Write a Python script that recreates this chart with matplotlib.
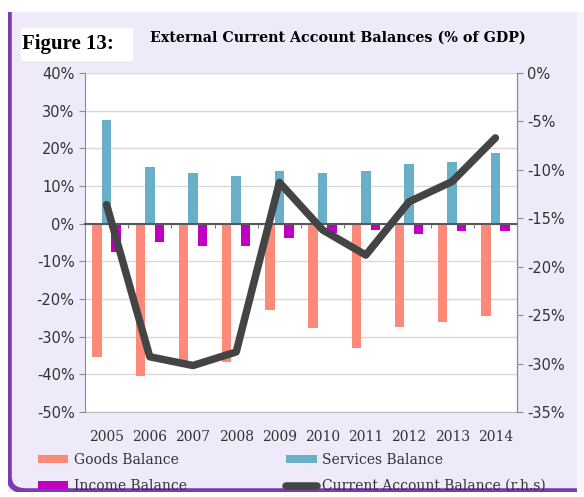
import numpy as np
import matplotlib
matplotlib.use('Agg')
import matplotlib.pyplot as plt
from matplotlib.patches import FancyBboxPatch, Rectangle
from matplotlib.ticker import FuncFormatter, MultipleLocator, FixedLocator

years = ['2005', '2006', '2007', '2008', '2009', '2010', '2011', '2012', '2013', '2014']
goods = [-35.4, -40.5, -36.5, -36.6, -22.9, -27.7, -33.0, -27.4, -26.2, -24.4]
services = [27.6, 15.1, 13.4, 12.7, 14.0, 13.4, 14.0, 15.8, 16.4, 18.8]
income = [-7.6, -4.9, -5.8, -5.8, -3.8, -2.5, -1.7, -2.7, -2.0, -2.0]
current_account = [-13.6, -29.3, -30.2, -28.8, -11.3, -16.2, -18.8, -13.3, -11.2, -6.7]

c_goods = '#FD8A78'
c_serv = '#6AAFC8'
c_inc = '#C000C0'
c_line = '#444444'
txt_col = '#333333'

W, H = 584, 497
fig = plt.figure(figsize=(W / 100, H / 100), dpi=100)
fig.patch.set_facecolor('white')

# lavender panel with purple left/bottom border
panel = Rectangle((8 / W, 1 - 492 / H), 1, (492 - 12) / H, transform=fig.transFigure,
                  facecolor='#EEEAFA', edgecolor='none', zorder=-3)
fig.patches.append(panel)
border = FancyBboxPatch((9 / W, 1 - 491 / H), 1.2, 1.2, transform=fig.transFigure,
                        boxstyle='round,pad=0,rounding_size=0.03',
                        facecolor='none', edgecolor='#7A3CB2', lw=4, zorder=-2)
border.set_clip_path(panel)
fig.patches.append(border)
# lighter strip on the right edge
fig.patches.append(Rectangle((577 / W, 1 - 492 / H), 1, (492 - 12) / H, transform=fig.transFigure,
                             facecolor='#F6F4FD', edgecolor='none', zorder=-2))

# figure label
fig.patches.append(Rectangle((21 / W, 1 - 61 / H), 112 / W, 33 / H, transform=fig.transFigure,
                             facecolor='white', edgecolor='none', zorder=2))
fig.text(22 / W, 1 - 44 / H, 'Figure 13:', family='Liberation Serif', weight='bold',
         fontsize=15, va='center', ha='left', zorder=3)
fig.text(150 / W, 1 - 38 / H, 'External Current Account Balances (% of GDP)',
         family='DejaVu Serif', weight='bold', fontsize=10.3, va='center', ha='left', zorder=3)

ax = fig.add_axes([85 / W, 1 - 412 / H, (517 - 85) / W, (412 - 73) / H])
ax.set_facecolor('white')
x = np.arange(len(years))
bw = 0.22
b1 = ax.bar(x - bw, goods, bw, color=c_goods, zorder=2, label='Goods Balance')
b2 = ax.bar(x, services, bw, color=c_serv, zorder=2, label='Services Balance')
b3 = ax.bar(x + bw, income, bw, color=c_inc, zorder=2, label='Income Balance')

ax.set_ylim(-50, 40)
ax.set_xlim(-0.5, len(years) - 0.5)
ax.yaxis.set_major_locator(MultipleLocator(10))
ax.yaxis.set_major_formatter(FuncFormatter(lambda v, p: f'{v:.0f}%'))
ax.grid(axis='y', color='#D9D9D9', lw=1, zorder=0)
ax.set_axisbelow(True)

for s in ['left', 'right', 'top']:
    ax.spines[s].set_color('#8C8C8C')
ax.spines['top'].set_visible(False)
ax.spines['bottom'].set_position(('data', 0))
ax.spines['bottom'].set_color('#595959')
ax.spines['bottom'].set_linewidth(1.5)
ax.spines['bottom'].set_zorder(3)
ax.set_xticks(x)
ax.set_xticklabels([])
ax.tick_params(axis='x', which='major', length=0)
ax.xaxis.set_minor_locator(FixedLocator(x[:-1] + 0.5))
ax.tick_params(axis='x', which='minor', length=3, color='#595959', direction='out')
ax.tick_params(axis='y', length=4, color='#8C8C8C', labelsize=10.5, labelcolor=txt_col)
for lab in ax.get_yticklabels():
    lab.set_family('DejaVu Sans')

secx = ax.secondary_xaxis(0)
secx.set_xticks(x)
secx.set_xticklabels(years, family='DejaVu Serif', fontsize=10, color=txt_col)
secx.tick_params(length=0, pad=13)
secx.spines['bottom'].set_color('#BFBFBF')

ax2 = ax.twinx()
ln, = ax2.plot(x, current_account, color=c_line, lw=5.4, solid_capstyle='round',
               solid_joinstyle='round', zorder=4, label='Current Account Balance (r.h.s)')
ax2.set_ylim(-35, 0)
ax2.yaxis.set_major_locator(MultipleLocator(5))
ax2.yaxis.set_major_formatter(FuncFormatter(lambda v, p: f'{v:.0f}%'))
ax2.tick_params(axis='y', length=4, color='#8C8C8C', labelsize=10.5, labelcolor=txt_col)
for s in ['left', 'right', 'top', 'bottom']:
    ax2.spines[s].set_visible(False)
ax2.spines['right'].set_visible(True)
ax2.spines['right'].set_color('#8C8C8C')

# legend filled column-wise: goods/income in column 1, services/line in column 2
leg = fig.legend([b1, b3, b2, ln],
                 ['Goods Balance', 'Income Balance', 'Services Balance',
                  'Current Account Balance (r.h.s)'],
                 ncol=2, loc='center left', bbox_to_anchor=(32 / W, 1 - 473 / H),
                 frameon=False, prop={'family': 'DejaVu Serif', 'size': 10},
                 handlelength=2.2, handleheight=0.45, handletextpad=0.4,
                 columnspacing=7.15, labelspacing=0.85, borderaxespad=0.0)
for t in leg.get_texts():
    t.set_color(txt_col)

fig.savefig('out.png', dpi=100, facecolor=fig.get_facecolor())
